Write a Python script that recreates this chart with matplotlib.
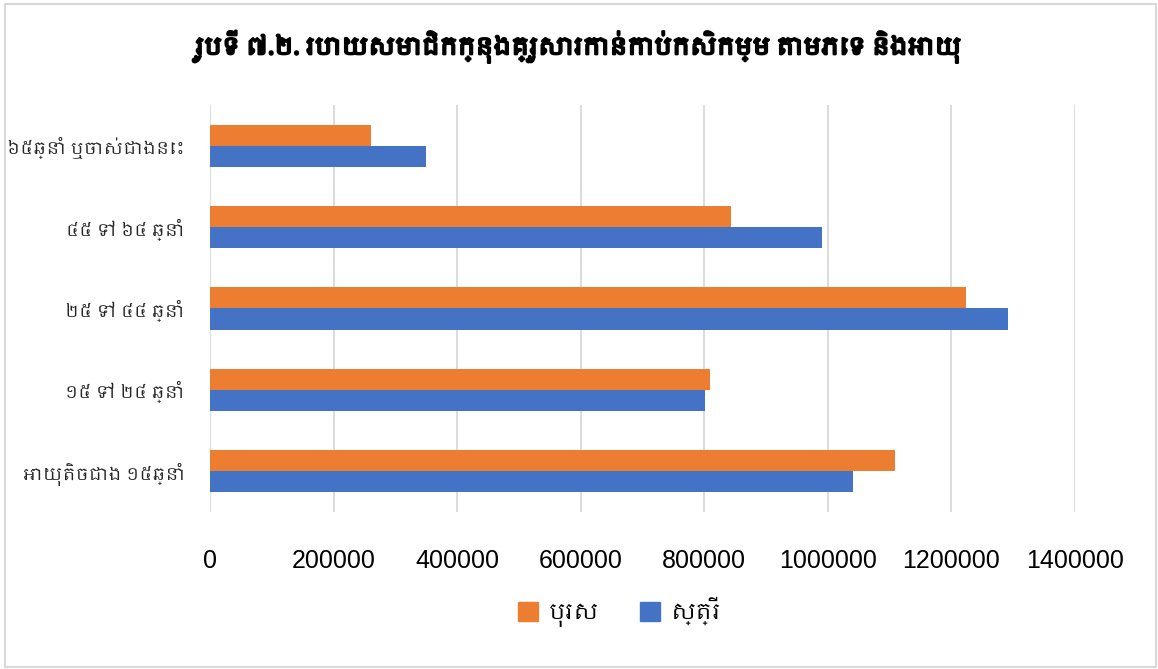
import matplotlib
matplotlib.use("Agg")
import matplotlib.pyplot as plt
import matplotlib.patheffects as pe
from matplotlib import font_manager
from matplotlib.ft2font import FT2Font
from matplotlib.patches import Patch, Rectangle
import numpy as np

categories = ["អាយុតិចជាង ១៥ឆ្នាំ", "១៥ ទៅ ២៤ ឆ្នាំ", "២៥ ទៅ ៤៤ ឆ្នាំ",
              "៤៥ ទៅ ៦៤ ឆ្នាំ", "៦៥ឆ្នាំ ឬចាស់ជាងនេះ"]
male = [1108000, 809000, 1224000, 844000, 261000]
female = [1041000, 802000, 1292000, 991000, 350000]
series_names = ["បុរស", "ស្ត្រី"]
xticks = [0, 200000, 400000, 600000, 800000, 1000000, 1200000, 1400000]
title = "រូបទី ៧.២. របាយសមាជិកក្នុងគ្រួសារកាន់កាប់កសិកម្ម តាមភេទ និងអាយុ"


def find_khmer_font():
    # any installed face that maps the Khmer block
    found = []
    for f in font_manager.fontManager.ttflist:
        try:
            cmap = FT2Font(f.fname).get_charmap()
        except Exception:
            continue
        if 0x1780 in cmap and 0x17D2 in cmap:
            found.append(f.name)
    found.sort(key=lambda n: ("Khmer" not in n, n))
    return found[0] if found else None


khmer = find_khmer_font()
families = ([khmer] if khmer else []) + ["Liberation Sans", "DejaVu Sans"]
plt.rcParams['font.family'] = families

fig = plt.figure(figsize=(11.58, 6.69), dpi=100)
ax = fig.add_axes([0.1813, 0.2347, 0.747, 0.6084])

y = np.arange(len(categories))
h = 0.26
ax.barh(y + h / 2, male, height=h, color="#ED7D31", zorder=3)
ax.barh(y - h / 2, female, height=h, color="#4472C4", zorder=3)

ax.set_xlim(0, 1400000)
ax.set_ylim(-0.5, len(categories) - 0.5)
ax.set_xticks(xticks)
ax.set_xticklabels([str(v) for v in xticks], fontsize=18,
                   family=["Liberation Sans", "DejaVu Sans"])
ax.set_yticks(y)
ax.set_yticklabels(categories, fontsize=12.5, color="#262626")
ax.tick_params(axis="both", length=0)
ax.tick_params(axis="x", pad=27)
ax.tick_params(axis="y", pad=18)
ax.grid(axis="x", color="#d9d9d9", linewidth=1.3, zorder=0)
for s in ax.spines.values():
    s.set_visible(False)

fig.text(0.5, 0.93, title, ha="center", va="center", fontsize=17,
         path_effects=[pe.withStroke(linewidth=1.6, foreground="black")])

handles = [Patch(color="#ED7D31"), Patch(color="#4472C4")]
fig.legend(handles, series_names, loc="center", bbox_to_anchor=(0.535, 0.085),
           ncol=2, frameon=False, fontsize=16, handlelength=0.9, handleheight=0.9,
           columnspacing=1.8, handletextpad=0.5)

fig.patches.append(Rectangle((0.004, 0.003), 0.994, 0.991, transform=fig.transFigure,
                             fill=False, edgecolor="#d9d9d9", linewidth=1.5))

fig.savefig("out.png", dpi=100)
